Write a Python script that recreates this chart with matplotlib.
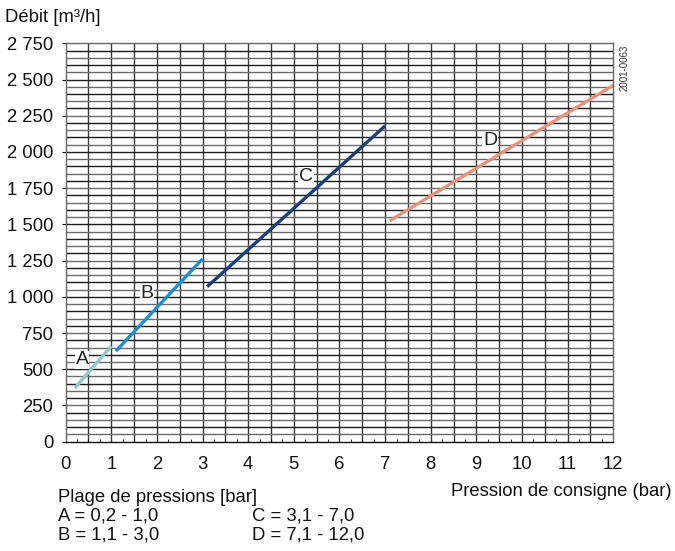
import numpy as np
import matplotlib
matplotlib.use("Agg")
import matplotlib.pyplot as plt
from matplotlib.ticker import MultipleLocator, FuncFormatter

plt.rcParams['font.family'] = ['Liberation Sans', 'DejaVu Sans']

# Data
a_x = [0.2, 1.0]
a_y = [370, 660]
b_x = [1.1, 3.0]
b_y = [625, 1262]
c_x = [3.1, 7.0]
c_y = [1070, 2180]
d_x = [7.1, 12.0]
d_y = [1525, 2460]
series_names = ['A', 'B', 'C', 'D']
series_colors = ['#8ccac6', '#1b8fd2', '#1c3f78', '#e0957c']
label_pos = [(0.36, 564), (1.78, 1020), (5.27, 1829), (9.3, 2077)]
x_ticks = list(range(0, 13))
y_ticks = list(range(0, 2751, 250))

FS = 13.3

fig = plt.figure(figsize=(6.75, 5.51), dpi=100)
ax = fig.add_axes([0.0973, 0.1984, 0.8113, 0.723])
ax.set_xlim(0, 12)
ax.set_ylim(0, 2750)

# grid
for xv in np.arange(0.5, 12, 0.5):
    ax.axvline(xv, color='#3a3a3a', lw=1.0, zorder=1)
for yv in np.arange(50, 2750, 50):
    col = '#1a1a1a' if (yv // 50) % 2 == 0 else '#6a6a6a'
    ax.axhline(yv, color=col, lw=1.0, zorder=1)

for xs, ys, col in zip([a_x, b_x, c_x, d_x], [a_y, b_y, c_y, d_y], series_colors):
    ax.plot(xs, ys, color=col, lw=2.4, solid_capstyle='butt', zorder=3)

for name, (lx, ly) in zip(series_names, label_pos):
    ax.text(lx, ly, name, fontsize=14, color='#222222', ha='center', va='center', zorder=4,
            bbox=dict(facecolor='white', edgecolor='none', pad=0.5))

for s in ax.spines.values():
    s.set_color('#666666')
    s.set_linewidth(1.0)
ax.spines['bottom'].set_color('#111111')

ax.set_xticks(x_ticks)
ax.set_yticks(y_ticks)
ax.xaxis.set_minor_locator(MultipleLocator(0.25))
ax.yaxis.set_major_formatter(FuncFormatter(lambda v, p: f"{int(v):,}".replace(',', ' ')))
ax.tick_params(axis='x', which='major', length=0, pad=10, labelsize=FS, colors='#111111')
ax.tick_params(axis='x', which='minor', direction='in', length=2, color='#111111')
ax.tick_params(axis='y', which='major', direction='out', length=3, pad=6, labelsize=FS, colors='#111111')

fig.text(5/675, 1 - 17/551, 'Débit [m³/h]', fontsize=FS, ha='left', va='center', color='#111111')
fig.text(672/675, 1 - 492/551, 'Pression de consigne (bar)', fontsize=FS, ha='right', va='center', color='#111111')
fig.text(58/675, 1 - 497/551, 'Plage de pressions [bar]', fontsize=FS, ha='left', va='center', color='#111111')
fig.text(58/675, 1 - 516/551, 'A = 0,2 - 1,0', fontsize=FS, ha='left', va='center', color='#111111')
fig.text(58/675, 1 - 535/551, 'B = 1,1 - 3,0', fontsize=FS, ha='left', va='center', color='#111111')
fig.text(252/675, 1 - 516/551, 'C = 3,1 - 7,0', fontsize=FS, ha='left', va='center', color='#111111')
fig.text(252/675, 1 - 535/551, 'D = 7,1 - 12,0', fontsize=FS, ha='left', va='center', color='#111111')
fig.text(625/675, 1 - 68/551, '2001-0063', fontsize=7, rotation=90, ha='center', va='center', color='#333333')

fig.savefig('out.png', dpi=100)
